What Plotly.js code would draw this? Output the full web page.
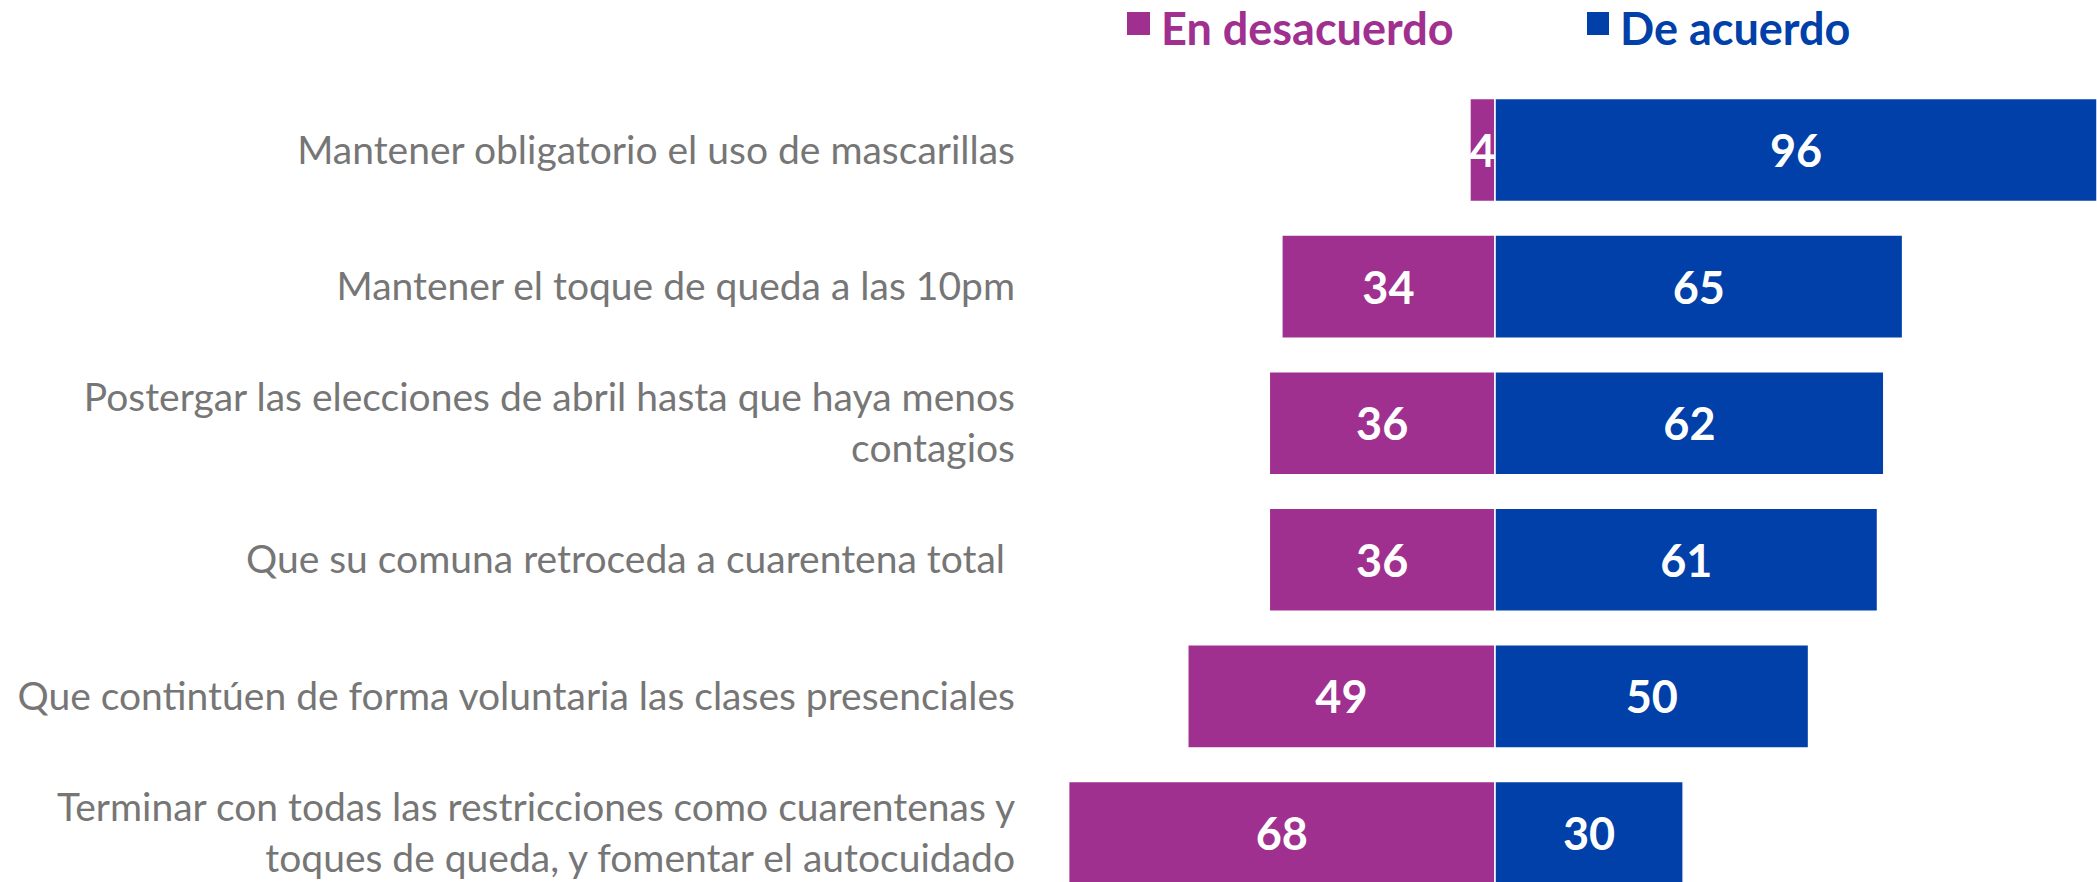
<!DOCTYPE html>
<html>
<head>
<meta charset="utf-8">
<script src="https://cdn.plot.ly/plotly-3.0.1.min.js"></script>
<style>html,body{margin:0;padding:0;background:#fff;}#chart{width:2097px;height:882px;}</style>
</head>
<body>
<div id="chart"></div>
<script>
var categories = [
  "Mantener obligatorio el uso de mascarillas",
  "Mantener el toque de queda a las 10pm",
  "Postergar las elecciones de abril hasta que haya menos<br>contagios",
  "Que su comuna retroceda a cuarentena total ",
  "Que contintúen de forma voluntaria las clases presenciales",
  "Terminar con todas las restricciones como cuarentenas y<br>toques de queda, y fomentar el autocuidado"
];
var disagree = [4, 34, 36, 36, 49, 68];
var agree = [96, 65, 62, 61, 50, 30];
var seriesNames = ["En desacuerdo", "De acuerdo"];

var purple = "#A0308F";
var blue = "#0040A8";
var W = 2097, H = 882, L = 1025, T = 60;
function px(x){ return (x - L) / (W - L); }
function py(y){ return (H - y) / (H - T); }

var common = {
  type: "bar", orientation: "h", y: categories,
  textposition: "inside", insidetextanchor: "middle", textangle: 0,
  constraintext: "none", cliponaxis: false,
  textfont: {family: "Lato", size: 45, color: "#ffffff", weight: "bold"},
  hoverinfo: "skip"
};
var t1 = Object.assign({}, common, {
  name: seriesNames[0],
  x: disagree.map(function(v){ return -v; }),
  text: disagree.map(String),
  marker: {color: purple, line: {color: "#ffffff", width: 1.5}}
});
var t2 = Object.assign({}, common, {
  name: seriesNames[1],
  x: agree,
  text: agree.map(String),
  marker: {color: blue, line: {color: "#ffffff", width: 1.5}}
});

var layout = {
  width: W, height: H,
  margin: {l: L, r: 0, t: T, b: 0, pad: 0},
  barmode: "relative",
  bargap: 0.245,
  showlegend: false,
  paper_bgcolor: "#ffffff", plot_bgcolor: "#ffffff",
  font: {family: "Lato"},
  xaxis: {range: [-74.96, 96.0], visible: false, fixedrange: true},
  yaxis: {
    type: "category", range: [5.359, -0.659],
    showgrid: false, zeroline: false, showline: false, ticks: "",
    tickfont: {family: "Lato", size: 39, color: "#767676"},
    ticklabelstandoff: 9,
    fixedrange: true
  },
  shapes: [
    {type: "rect", xref: "paper", yref: "paper", x0: px(1127), x1: px(1150), y0: py(35), y1: py(12), fillcolor: purple, line: {width: 0}},
    {type: "rect", xref: "paper", yref: "paper", x0: px(1587), x1: px(1609), y0: py(35), y1: py(12), fillcolor: blue, line: {width: 0}}
  ],
  annotations: [
    {xref: "paper", yref: "paper", x: px(1160), y: py(0), xanchor: "left", yanchor: "top", borderpad: 0, showarrow: false,
     text: "<b>" + seriesNames[0] + "</b>", font: {family: "Lato", size: 45, color: purple}},
    {xref: "paper", yref: "paper", x: px(1619), y: py(0), xanchor: "left", yanchor: "top", borderpad: 0, showarrow: false,
     text: "<b>" + seriesNames[1] + "</b>", font: {family: "Lato", size: 45, color: blue}}
  ]
};
Plotly.newPlot("chart", [t1, t2], layout, {displayModeBar: false, staticPlot: true});
</script>
</body>
</html>
